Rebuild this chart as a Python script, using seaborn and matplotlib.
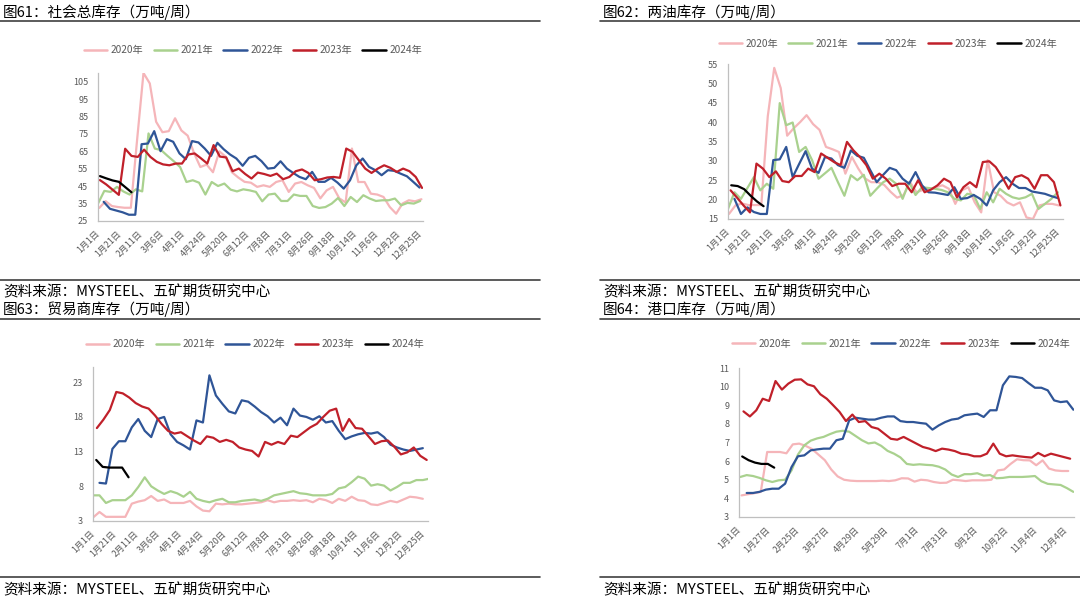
import numpy as np
import pandas as pd
import matplotlib
matplotlib.use('Agg')
import matplotlib.pyplot as plt
import seaborn as sns
from matplotlib.lines import Line2D

sns.set_style('white')
plt.rcParams['font.family'] = ['Noto Sans CJK SC', 'DejaVu Sans']
plt.rcParams['axes.unicode_minus'] = False

# ---------------- data ----------------
years = ['2020年', '2021年', '2022年', '2023年', '2024年']
colors = ['#F5B5B9', '#A9D18E', '#2F5597', '#C0202A', '#000000']

labels_a = ['1月1日', '1月21日', '2月11日', '3月6日', '4月1日', '4月24日', '5月20日', '6月12日',
            '7月8日', '7月31日', '8月26日', '9月18日', '10月14日', '11月6日', '12月2日', '12月25日']
labels_b = ['1月1日', '1月27日', '2月25日', '3月27日', '4月29日', '5月29日', '7月1日', '7月31日',
            '9月2日', '10月2日', '11月4日', '12月4日']

# 图61 社会总库存 (week offset of first observation, then weekly values)
soc_start = [0.2, 0.0, 0.9, 0.3, 0.3]
soc_2020 = [32.5, 36.4, 33.6, 33, 32.6, 32.6, 72, 110, 104, 82, 76, 76.6, 84, 77, 74, 64, 56, 57.4, 53, 65,
            62, 53, 50, 47.5, 47, 44.6, 45.5, 44.6, 47.4, 48.4, 41.7, 46.5, 47.4, 45.5, 44, 38, 42.6, 44.6,
            38, 35.6, 66.6, 47.4, 47.4, 40.7, 40.2, 38.8, 33, 29.2, 35, 36.9, 36.3, 37.5]
soc_2021 = [35, 42.3, 41.7, 44.6, 42, 40.2, 43.2, 42, 75.3, 66.6, 65.7, 62.4, 59.3, 56, 47.4, 48.4, 47,
            40.2, 47.4, 45.1, 46.5, 43, 42, 43.2, 42.6, 41.7, 36.3, 40.2, 40.7, 36.5, 36.5, 40.2, 39.4,
            39.4, 33.6, 32.5, 33, 35, 38.2, 33.6, 38.8, 35.9, 39.8, 37.9, 36.5, 36.9, 36.9, 37.9, 34,
            35.4, 35, 36.5]
soc_2022 = [36, 32, 31, 30, 28.6, 28.6, 69.1, 69.5, 76.6, 65.1, 72, 70.5, 63.8, 60.5, 70.9, 70.1, 66.6,
            62.4, 69.9, 66.2, 63.2, 60.9, 56.7, 61.3, 62.4, 59.3, 55.1, 55.5, 59.3, 55.1, 52.6, 50.3, 49,
            53.2, 47.5, 47.5, 49.8, 47.1, 43.6, 48.4, 57, 60.9, 56.1, 54.2, 51.3, 54.2, 53.8, 52.2, 50.7,
            47.5, 44.2]
soc_2023 = [48.5, 46, 43, 40, 66.5, 62.4, 61.8, 66, 61.8, 59, 57.5, 57, 58, 58, 63.2, 63.8, 61, 58, 68.6,
            62, 61.5, 53.6, 55.1, 52, 49.4, 52.8, 52, 50.9, 52.2, 49, 50.3, 53.6, 54.6, 52.6, 48.4, 49, 50,
            50.3, 49.8, 66.6, 64.7, 59.9, 55.1, 52.6, 55.1, 57, 55.5, 53.2, 55.1, 53.6, 50.3, 44]
soc_2024 = [50.8, 49.5, 48.3, 47.5, 44.5, 41.5]

# 图62 两油库存
oil_start = [0.15, 0.0, 1.0, 0.4, 0.5]
oil_2020 = [16.3, 18.5, 19, 18.6, 18.6, 18.6, 41.5, 54, 48.8, 36.5, 38.4, 40, 41.8, 39.5, 38, 33.6, 33,
            32.3, 26.7, 31, 28, 25.5, 24.5, 24.5, 23.8, 22, 20.5, 21.2, 24.5, 21.9, 22.5, 22.8, 23.2, 23.7,
            22.8, 18.9, 22.4, 23.2, 19.3, 16.7, 30.2, 21.9, 21, 19.3, 18.5, 19.3, 15.4, 15, 18.5, 18.9,
            18.9, 18.5]
oil_2021 = [17.6, 21.9, 20.2, 23, 25.8, 22.4, 24.1, 22.8, 44.9, 39.2, 39.9, 32.3, 33.6, 30.2, 25.4, 26.8,
            28.2, 24.5, 21, 26.3, 25, 26.4, 21, 22.8, 24.5, 25.4, 24.1, 20.2, 24.5, 21.2, 23.2, 23, 22.8,
            22.5, 21.9, 20.2, 19.8, 21.5, 21.2, 17.6, 21.9, 19.3, 22.8, 21.5, 20.6, 20.2, 20.6, 21.5,
            17.6, 18.9, 20.2, 21.9]
oil_2022 = [20.2, 16.3, 18, 16.8, 16.3, 16.3, 30.2, 30.4, 33.6, 25.8, 29.2, 32.5, 28, 26.9, 31, 30.6,
            28.9, 28.2, 32.7, 31.3, 30.8, 27.6, 24.5, 26.4, 28.2, 27.6, 25.4, 24.1, 27.1, 23.7, 21.9, 21.8,
            21.5, 21.2, 23.2, 20.2, 20.4, 21.2, 20.2, 18.5, 22.4, 24.5, 25.8, 24.1, 23, 23, 22.1, 21.8,
            21.5, 20.9, 20.4]
oil_2023 = [22.4, 20.5, 18.5, 16.7, 29.3, 28, 25.8, 27.3, 24.8, 24.5, 26.1, 26.1, 28, 27.1, 31.9, 30.8,
            29.7, 28.9, 34.9, 32.7, 31, 28.9, 25.4, 26.7, 25.4, 23.5, 24.1, 24.1, 21.9, 25, 21.9, 22.6,
            23.7, 25.4, 24.5, 20.6, 23.2, 24.5, 23.2, 29.7, 29.9, 28.4, 25.8, 22.8, 25.8, 26.3, 25.4,
            22.8, 26.3, 26.3, 24.5, 18.5]
oil_2024 = [23.7, 23.5, 22.7, 21, 19.5, 18.3]

# 图63 贸易商库存
tr_start = [0.0, 0.0, 1.0, 0.6, 0.5]
tr_2020 = [3.5, 4.3, 3.6, 3.6, 3.6, 3.6, 5.5, 5.8, 6.0, 6.6, 5.9, 6.1, 5.6, 5.6, 5.6, 5.9, 5.1, 4.5, 4.4,
           5.5, 5.4, 5.5, 5.4, 5.4, 5.5, 5.6, 5.7, 6.0, 5.7, 5.9, 5.9, 6.0, 5.9, 6.0, 5.7, 6.2, 6.0, 5.6,
           6.2, 5.9, 6.5, 6.0, 5.9, 5.4, 5.3, 5.6, 5.9, 5.7, 6.1, 6.5, 6.4, 6.2]
tr_2021 = [6.7, 6.7, 5.6, 6.0, 6.0, 6.0, 6.7, 7.9, 9.3, 8.0, 7.4, 6.9, 7.3, 7.0, 6.5, 7.2, 6.2, 5.9, 5.7,
           6.0, 6.2, 5.7, 5.7, 5.9, 6.0, 6.1, 5.9, 6.2, 6.7, 6.9, 7.1, 7.3, 7.0, 6.9, 6.7, 6.7, 6.7, 6.9,
           7.7, 7.9, 8.6, 9.4, 9.1, 8.1, 8.3, 8.1, 7.4, 7.9, 8.5, 8.5, 8.9, 8.9, 9.1]
tr_2022 = [8.5, 8.4, 13.4, 14.5, 14.5, 16.5, 17.7, 16, 15.1, 17.7, 18, 15.5, 14.4, 13.9, 13.3, 17.5, 17.2,
           24, 21.1, 19.9, 18.8, 18.5, 20.4, 20.2, 19.5, 18.7, 18.1, 17.2, 17.9, 16.8, 19.2, 18.2, 18,
           17.6, 18.1, 17.2, 17.4, 16, 14.8, 15.2, 15.5, 15.7, 15.6, 15.8, 15.1, 14, 13.6, 13.3, 13.1,
           13.3, 13.5]
tr_2023 = [16.4, 17.6, 19, 21.6, 21.4, 20.8, 20, 19.5, 19.2, 18.2, 17, 16, 15.6, 15.8, 15.2, 14.6, 14.1,
           15.2, 15, 14.4, 14.7, 14.4, 13.6, 13.3, 13.1, 12.3, 14.4, 14, 14.4, 14.1, 15.3, 15.1, 15.8,
           16.5, 17, 18, 18.9, 19.2, 16, 17.7, 16.4, 16.3, 15.2, 14.1, 14.5, 14.6, 13.7, 12.6, 12.9,
           13.6, 12.4, 11.8]
tr_2024 = [11.8, 10.8, 10.7, 10.7, 10.7, 9.3]

# 图64 港口库存
pt_start = [0.4, 0.2, 1.2, 0.7, 0.5]
pt_2020 = [4.16, 4.22, 4.28, 4.35, 6.49, 6.49, 6.49, 6.42, 6.9, 6.94, 6.82, 6.65, 6.35, 6.05, 5.55,
           5.18, 5.0, 4.95, 4.93, 4.93, 4.93, 4.93, 4.95, 4.93, 4.97, 5.08, 5.07, 4.9, 5.0, 4.97, 4.88,
           4.83, 4.84, 5.0, 4.97, 4.93, 4.97, 4.97, 4.97, 5.0, 5.5, 5.55, 5.85, 6.1, 6.05, 6.04, 5.78,
           6.04, 5.6, 5.5, 5.47, 5.47]
pt_2021 = [5.15, 5.25, 5.2, 5.1, 4.97, 4.88, 4.97, 5.0, 5.5, 6.35, 6.85, 7.1, 7.22, 7.3, 7.45, 7.58,
           7.63, 7.58, 7.35, 7.12, 6.95, 7.0, 6.82, 6.55, 6.4, 6.2, 5.85, 5.8, 5.83, 5.8, 5.78, 5.7, 5.55,
           5.28, 5.15, 5.3, 5.3, 5.35, 5.22, 5.25, 5.08, 5.1, 5.15, 5.15, 5.15, 5.17, 5.2, 4.92, 4.78,
           4.75, 4.72, 4.55, 4.35]
pt_2022 = [4.29, 4.29, 4.35, 4.47, 4.52, 4.52, 4.79, 5.68, 6.26, 6.31, 6.58, 6.63, 6.67, 6.67, 7.12, 7.2,
           8.19, 8.33, 8.28, 8.23, 8.23, 8.33, 8.4, 8.4, 8.15, 8.1, 8.1, 8.05, 8.01, 7.69, 7.92, 8.1,
           8.23, 8.28, 8.46, 8.51, 8.55, 8.37, 8.73, 8.73, 10.07, 10.55, 10.52, 10.46, 10.19, 9.94, 9.94,
           9.8, 9.26, 9.17, 9.21, 8.76]
pt_2023 = [8.67, 8.4, 8.73, 9.35, 9.23, 10.3, 9.84, 10.16, 10.37, 10.39, 10.12, 10.02, 9.59, 9.35, 9.0,
           8.64, 8.15, 8.5, 8.1, 8.15, 7.83, 7.74, 7.47, 7.2, 7.15, 7.3, 7.12, 6.94, 6.76, 6.67, 6.54,
           6.67, 6.62, 6.54, 6.4, 6.36, 6.26, 6.26, 6.4, 6.94, 6.4, 6.26, 6.31, 6.26, 6.22, 6.19, 6.44,
           6.26, 6.4, 6.31, 6.22, 6.13]
pt_2024 = [6.25, 6.05, 5.92, 5.85, 5.85, 5.65]

# ---------------- figure ----------------
W, H = 1080, 601
fig = plt.figure(figsize=(W / 100, H / 100), dpi=100)


def fx(px):
    return px / W


def fy(py):
    return 1 - py / H


GRAY = '#595959'
AXC = '#BFBFBF'


def panel(rect, series, starts, ylim, yticks, xlabels, label_pos, xlim, minor_step, leg_xy):
    l, t, r, b = rect
    ax = fig.add_axes([fx(l), fy(b), fx(r - l), (b - t) / H])
    frames = []
    for name, vals, s in zip(years, series, starts):
        frames.append(pd.DataFrame({'x': s + np.arange(len(vals)), 'v': vals, 'year': name}))
    df = pd.concat(frames, ignore_index=True)
    sns.lineplot(data=df, x='x', y='v', hue='year', hue_order=years,
                 palette=dict(zip(years, colors)), estimator=None, sort=False,
                 linewidth=1.6, ax=ax, legend=False)
    ax.set_xlim(*xlim)
    ax.set_ylim(*ylim)
    ax.set_xlabel('')
    ax.set_ylabel('')
    ax.set_yticks(yticks)
    ax.set_yticklabels([str(v) for v in yticks], fontsize=6.5, color=GRAY)
    ax.set_xticks(label_pos)
    ax.set_xticklabels(xlabels, rotation=45, ha='right', va='center',
                       rotation_mode='anchor', fontsize=6.4, color=GRAY)
    ax.set_xticks(np.arange(0, xlim[1] + 0.01, minor_step), minor=True)
    ax.tick_params(axis='x', which='major', length=0, pad=8)
    ax.tick_params(axis='x', which='minor', length=3, width=0.8, color=AXC, direction='out')
    ax.tick_params(axis='y', length=0, pad=7)
    for side in ['top', 'right']:
        ax.spines[side].set_visible(False)
    for side in ['left', 'bottom']:
        ax.spines[side].set_color(AXC)
        ax.spines[side].set_linewidth(0.9)
    ax.grid(False)
    handles = [Line2D([0], [0], color=c, lw=1.8) for c in colors]
    ax.legend(handles, years, ncol=5, loc='center', bbox_to_anchor=leg_xy, frameon=False,
              fontsize=7.3, labelcolor=GRAY, handlelength=2.3, handletextpad=0.35,
              columnspacing=1.0, borderaxespad=0, borderpad=0)
    return ax


pos_a = [51 * k / 15 for k in range(16)]
pos_b = [4.64 * k for k in range(12)]

panel((98, 73, 423, 221), [soc_2020, soc_2021, soc_2022, soc_2023, soc_2024], soc_start,
      (25, 110), list(range(25, 106, 10)), labels_a, pos_a, (0, 51.45), 2.41, (0.477, 1.155))
panel((728, 64, 1063, 219), [oil_2020, oil_2021, oil_2022, oil_2023, oil_2024], oil_start,
      (15, 55), list(range(15, 56, 5)), labels_a, pos_a, (0, 51.8), 2.41, (0.477, 1.131))
panel((93, 367, 428, 521), [tr_2020, tr_2021, tr_2022, tr_2023, tr_2024], tr_start,
      (3, 25.2), list(range(3, 24, 5)), labels_a, pos_a, (0, 51.8), 2.41, (0.484, 1.147))
panel((739, 368, 1074, 517), [pt_2020, pt_2021, pt_2022, pt_2023, pt_2024], pt_start,
      (3, 11), list(range(3, 12)), labels_b, pos_b, (0, 52.3), 2.45, (0.484, 1.163))

# ---------------- frame texts and rules ----------------
TFS = 10.5
titles = [(3, 12, '图61：社会总库存（万吨/周）'), (603, 12, '图62：两油库存（万吨/周）'),
          (3, 309, '图63：贸易商库存（万吨/周）'), (603, 309, '图64：港口库存（万吨/周）')]
for x, y, s in titles:
    fig.text(fx(x), fy(y), s, fontsize=TFS, ha='left', va='center', color='#000000')

src = '资料来源：MYSTEEL、五矿期货研究中心'
for x, y in [(3, 292), (603, 292), (3, 590), (603, 590)]:
    fig.text(fx(x), fy(y), src, fontsize=TFS, ha='left', va='center', color='#000000')

for y in [20.5, 279.5, 318.5, 577]:
    fig.add_artist(Line2D([0, fx(540)], [fy(y), fy(y)], color='#404040', lw=1.2))
    fig.add_artist(Line2D([fx(600), 1], [fy(y), fy(y)], color='#404040', lw=1.2))

fig.savefig('out.png', dpi=100, facecolor='white')
